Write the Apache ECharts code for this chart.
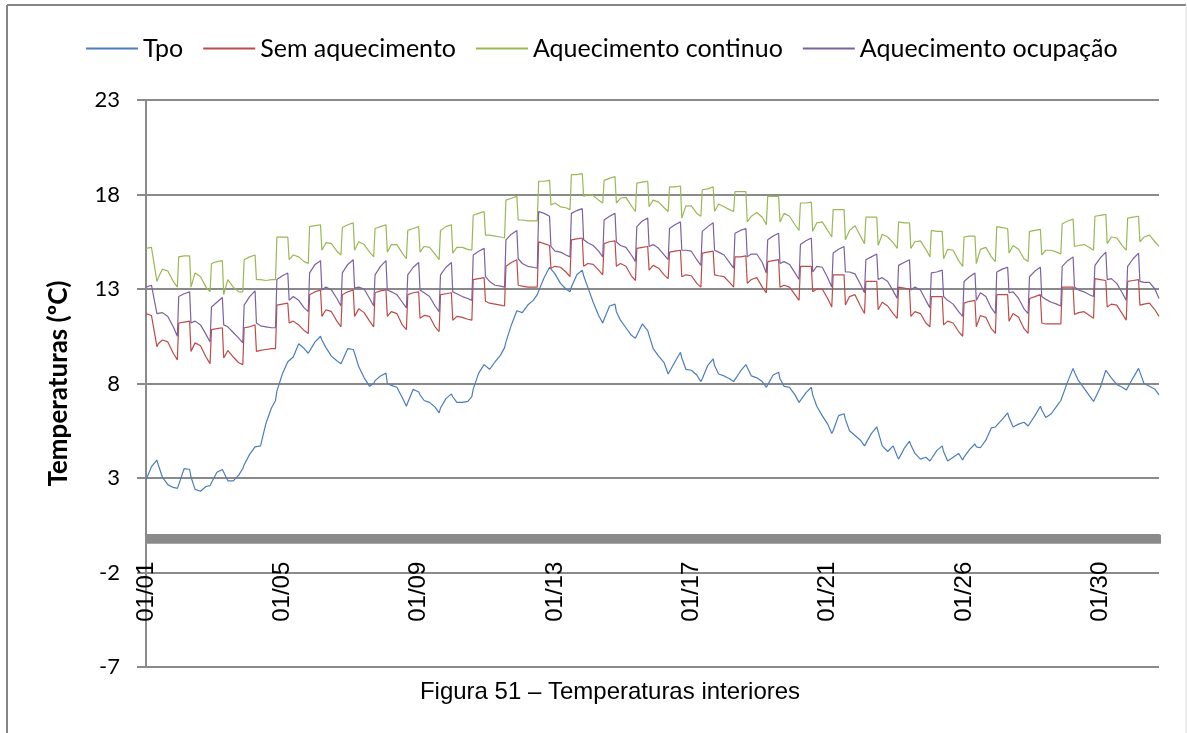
<!DOCTYPE html>
<html>
<head>
    <meta http-equiv="content-type" content="text/html;charset=utf-8" />
    <title>Temperaturas interiores</title>
    <script src="https://cdn.jsdelivr.net/npm/echarts@6/dist/echarts.min.js"></script>
    <style type="text/css">
        * { margin: 0; padding: 0 }
        html, body { background: #fff; }
        #chart { width: 1187px; height: 733px; }
    </style>
</head>
<body>
<div id="chart"></div>

<script>
    // horas de amostragem dentro de cada dia (o grafico original e horario)
    var sampleOffsets = [0, 4, 8, 9, 12, 16, 20, 23];
    var nDays = 31;
    // etiquetas do eixo x, uma a cada 100 horas
    var tickLabels = ['01/01', '01/05', '01/09', '01/13', '01/17', '01/21', '01/26', '01/30'];
    var yTicks = [-7, -2, 3, 8, 13, 18, 23];

    // Tpo
    var tpo = [
        2.9, 3.6, 3.95, 3.7, 3.05, 2.65, 2.5, 2.45,
        2.65, 3.5, 3.45, 3.05, 2.4, 2.3, 2.55, 2.6,
        2.75, 3.3, 3.45, 3.3, 2.85, 2.85, 3.15, 3.5,
        3.7, 4.25, 4.65, 4.65, 4.7, 5.9, 6.7, 7.1,
        7.6, 8.5, 9.15, 9.2, 9.4, 10.1, 9.85, 9.6,
        9.7, 10.2, 10.5, 10.3, 9.9, 9.45, 9.2, 9.05,
        9.2, 9.85, 9.8, 9.6, 8.9, 8.3, 7.85, 8.0,
        8.15, 8.4, 8.55, 8.0, 7.9, 7.8, 7.25, 6.8,
        7.0, 7.7, 7.55, 7.4, 7.1, 7.0, 6.75, 6.45,
        6.7, 7.2, 7.45, 7.3, 7.0, 7.0, 7.05, 7.3,
        7.7, 8.55, 9.0, 8.9, 8.75, 9.15, 9.5, 9.9,
        10.2, 11.1, 11.85, 11.8, 11.75, 12.15, 12.4, 12.7,
        12.9, 13.6, 14.15, 14.1, 13.8, 13.3, 13.0, 12.85,
        13.1, 13.75, 14.0, 13.7, 13.1, 12.3, 11.6, 11.2,
        11.4, 12.1, 12.2, 11.8, 11.35, 10.95, 10.55, 10.4,
        10.55, 11.15, 10.8, 10.55, 9.85, 9.45, 9.1, 8.5,
        8.45, 9.15, 9.65, 9.35, 8.75, 8.7, 8.45, 8.1,
        8.25, 8.95, 9.3, 8.95, 8.5, 8.4, 8.25, 8.1,
        8.1, 8.65, 9.0, 8.85, 8.4, 8.3, 8.1, 7.8,
        7.9, 8.45, 8.6, 8.25, 7.85, 7.8, 7.4, 7.0,
        6.95, 7.5, 7.8, 7.4, 6.8, 6.3, 5.85, 5.35,
        5.5, 6.3, 6.4, 6.1, 5.5, 5.25, 5.0, 4.7,
        4.8, 5.35, 5.7, 5.45, 4.7, 4.4, 4.7, 4.15,
        4.0, 4.55, 4.95, 4.75, 4.3, 4.0, 4.1, 3.9,
        4.0, 4.45, 4.7, 4.4, 3.9, 4.1, 4.3, 3.95,
        4.1, 4.5, 4.8, 4.65, 4.6, 5.0, 5.65, 5.7,
        5.8, 6.1, 6.45, 6.2, 5.7, 5.85, 5.95, 5.75,
        5.8, 6.3, 6.8, 6.6, 6.2, 6.4, 6.8, 7.1,
        7.3, 8.1, 8.8, 8.6, 8.15, 7.75, 7.35, 7.05,
        6.95, 7.8, 8.7, 8.6, 8.3, 7.95, 7.8, 7.65,
        7.7, 8.3, 8.8, 8.6, 8.0, 7.85, 7.7, 7.4
    ];

    // Sem aquecimento
    var semAquecimento = [
        11.7, 11.6, 9.95, 10.1, 10.3, 10.2, 9.6, 9.25,
        11.2, 11.25, 11.3, 9.7, 10.15, 10.0, 9.4, 9.05,
        10.85, 10.9, 10.95, 9.35, 9.75, 9.4, 9.1, 9.0,
        10.95, 11.0, 11.1, 9.7, 9.75, 9.8, 9.85, 9.85,
        12.15, 12.2, 12.25, 11.2, 11.3, 11.1, 10.8, 10.65,
        12.7, 12.85, 12.95, 11.55, 11.9, 11.8, 11.3, 11.0,
        12.7, 12.85, 12.95, 11.55, 11.95, 11.75, 11.3, 11.0,
        12.8, 12.9, 12.95, 11.55, 11.8, 11.7, 11.1, 10.85,
        12.7, 12.8, 12.85, 11.45, 11.6, 11.55, 11.0, 10.75,
        12.7, 12.75, 12.8, 11.35, 11.55, 11.5, 11.4, 11.35,
        13.5, 13.55, 13.6, 12.35, 12.25, 12.2, 12.15, 12.1,
        14.2, 14.4, 14.55, 13.2, 13.15, 13.1, 13.1, 13.1,
        15.5, 15.4, 15.3, 14.1, 14.2, 14.15, 13.9, 13.65,
        15.6, 15.65, 15.7, 14.2, 14.35, 14.3, 14.0, 13.75,
        15.4, 15.5, 15.55, 14.2, 14.35, 14.2, 13.7, 13.45,
        15.15, 15.2, 15.25, 14.0, 14.25, 14.1, 13.75, 13.55,
        14.95, 15.0, 15.05, 13.65, 13.75, 13.7, 13.3, 13.1,
        14.9, 14.95, 15.0, 13.75, 13.7, 13.65, 13.35, 13.1,
        14.7, 14.7, 14.75, 13.3, 13.5, 13.6, 13.1, 12.8,
        14.45, 14.5, 14.55, 13.1, 13.2, 13.1, 12.7, 12.4,
        14.2, 14.2, 14.2, 12.85, 13.0, 13.0, 12.5, 12.05,
        13.75, 13.75, 13.75, 12.15, 12.6, 12.7, 12.1, 11.7,
        13.4, 13.4, 13.4, 11.9, 12.3, 12.1, 11.7, 11.45,
        13.1, 13.05, 13.0, 11.55, 11.8, 11.7, 11.2, 11.0,
        12.6, 12.6, 12.6, 11.1, 11.3, 11.2, 10.75, 10.5,
        12.25, 12.35, 12.4, 11.0, 11.6, 11.5, 10.9, 10.65,
        12.7, 12.7, 12.7, 11.3, 11.7, 11.5, 10.9, 10.65,
        12.5, 12.6, 12.7, 11.2, 11.15, 11.15, 11.15, 11.15,
        13.1, 13.1, 13.1, 11.65, 11.75, 11.8, 11.6, 11.45,
        13.55, 13.5, 13.45, 12.05, 12.2, 12.15, 11.7, 11.35,
        13.4, 13.45, 13.5, 12.15, 12.2, 12.25, 11.9, 11.55
    ];

    // Aquecimento continuo
    var aquecContinuo = [
        15.15, 15.2, 13.4, 13.6, 14.05, 13.95, 13.4, 13.1,
        14.7, 14.75, 14.75, 13.1, 13.85, 13.65, 13.1, 12.85,
        14.35, 14.45, 14.5, 12.7, 13.5, 13.1, 12.85, 12.85,
        14.55, 14.7, 14.8, 13.5, 13.5, 13.45, 13.5, 13.5,
        15.75, 15.75, 15.75, 14.55, 14.8, 14.7, 14.45, 14.35,
        16.3, 16.35, 16.4, 15.05, 15.45, 15.4, 15.0, 14.8,
        16.25, 16.4, 16.5, 15.05, 15.5, 15.35, 14.95, 14.7,
        16.2, 16.3, 16.4, 14.95, 15.35, 15.35, 14.9, 14.6,
        16.1, 16.2, 16.3, 14.95, 15.25, 15.2, 14.85, 14.55,
        16.1, 16.3, 16.4, 14.9, 15.2, 15.2, 15.1, 15.05,
        16.9, 17.0, 17.1, 15.85, 15.85, 15.8, 15.75, 15.7,
        17.7, 17.8, 17.9, 16.65, 16.65, 16.6, 16.6, 16.6,
        18.7, 18.7, 18.75, 17.45, 17.55, 17.35, 17.3, 17.2,
        19.05, 19.05, 19.1, 17.9, 18.0, 17.95, 17.7, 17.55,
        18.75, 18.85, 18.95, 17.55, 17.8, 17.85, 17.4, 17.1,
        18.6, 18.65, 18.7, 17.35, 17.7, 17.6, 17.3, 17.1,
        18.4, 18.4, 18.45, 16.75, 17.4, 17.4, 17.0, 16.85,
        18.25, 18.3, 18.4, 17.1, 17.5, 17.35, 17.2, 17.1,
        18.15, 18.15, 18.15, 16.55, 16.85, 17.05, 16.8, 16.4,
        17.9, 17.9, 17.9, 16.55, 17.0, 16.85, 16.4, 16.1,
        17.55, 17.55, 17.6, 16.05, 16.5, 16.55, 16.1, 15.75,
        17.2, 17.2, 17.2, 15.6, 16.1, 16.35, 15.8, 15.4,
        16.8, 16.8, 16.8, 15.3, 15.9, 15.75, 15.45, 15.15,
        16.55, 16.5, 16.5, 15.15, 15.5, 15.55, 15.1, 14.7,
        16.1, 16.05, 16.05, 14.6, 15.1, 15.05, 14.5, 14.2,
        15.75, 15.8, 15.8, 14.35, 15.1, 15.2, 14.7, 14.45,
        16.3, 16.25, 16.2, 14.9, 15.3, 15.1, 14.6, 14.45,
        16.05, 16.1, 16.15, 14.8, 15.05, 15.05, 14.95, 14.85,
        16.45, 16.6, 16.7, 15.25, 15.3, 15.35, 15.2, 15.05,
        16.85, 16.9, 16.95, 15.4, 15.75, 15.7, 15.3, 15.05,
        16.75, 16.8, 16.85, 15.5, 15.75, 15.85, 15.5, 15.25
    ];

    // Aquecimento ocupação
    var aquecOcupacao = [
        13.1, 13.2, 11.7, 11.75, 11.75, 11.55, 11.0, 10.5,
        12.6, 12.75, 12.85, 11.2, 11.3, 11.1, 10.6, 10.2,
        12.05, 12.3, 12.55, 11.1, 11.0, 10.7, 10.4, 10.15,
        12.15, 12.6, 12.9, 11.2, 11.05, 11.0, 10.95, 10.95,
        13.5, 13.7, 13.85, 12.4, 12.6, 12.4, 12.0, 11.8,
        13.85, 14.3, 14.5, 12.95, 13.1, 12.95, 12.5, 12.1,
        13.85, 14.3, 14.55, 13.05, 13.1, 13.0, 12.5, 12.1,
        13.75, 14.2, 14.5, 12.95, 12.85, 12.7, 12.3, 12.0,
        13.75, 14.15, 14.4, 12.95, 12.8, 12.6, 12.1, 11.8,
        13.75, 14.15, 14.4, 12.85, 12.75, 12.6, 12.5, 12.4,
        14.8, 15.0, 15.15, 13.65, 13.4, 13.2, 13.15, 13.1,
        15.6, 15.9, 16.1, 14.6, 14.35, 14.2, 14.15, 14.1,
        17.1, 17.0, 16.85, 15.25, 15.0, 14.95, 14.8, 14.7,
        17.0, 17.15, 17.25, 15.6, 15.45, 15.3, 15.0, 14.7,
        16.65, 16.85, 17.0, 15.5, 15.3, 15.2, 14.8, 14.45,
        16.3, 16.6, 16.75, 15.25, 15.35, 15.15, 14.8, 14.55,
        16.2, 16.4, 16.55, 15.05, 15.05, 15.0, 14.55, 14.25,
        16.05, 16.3, 16.5, 15.05, 14.95, 14.8, 14.4, 14.1,
        15.95, 16.1, 16.2, 14.7, 14.85, 14.85, 14.4, 13.85,
        15.6, 15.8, 15.95, 14.35, 14.45, 14.3, 13.85, 13.5,
        15.35, 15.55, 15.7, 13.9, 14.2, 14.15, 13.6, 13.1,
        14.9, 15.1, 15.25, 13.9, 13.9, 13.8, 13.25, 12.8,
        14.55, 14.7, 14.85, 13.5, 13.6, 13.4, 12.9, 12.5,
        14.25, 14.4, 14.55, 12.95, 13.1, 12.95, 12.4, 12.0,
        13.85, 13.9, 14.0, 12.6, 12.4, 12.2, 11.8, 11.55,
        13.4, 13.65, 13.85, 12.4, 12.8, 12.6, 12.0, 11.7,
        13.9, 14.05, 14.15, 12.8, 12.85, 12.5, 11.95, 11.7,
        13.65, 13.95, 14.15, 12.6, 12.45, 12.3, 12.2, 12.1,
        14.2, 14.5, 14.7, 13.1, 12.95, 12.85, 12.7, 12.6,
        14.25, 14.65, 14.95, 13.5, 13.55, 13.3, 12.8, 12.4,
        14.2, 14.6, 14.9, 13.4, 13.35, 13.35, 13.0, 12.5
    ];

    var hours = [];
    for (var d = 0; d < nDays; d++) {
        for (var k = 0; k < sampleOffsets.length; k++) {
            hours.push(d * 24 + sampleOffsets[k]);
        }
    }

    function pairs(values) {
        var out = [];
        for (var i = 0; i < values.length; i++) {
            out.push([hours[i], values[i]]);
        }
        return out;
    }

    var gridColor = '#8a8a8a';
    var gridTop = 100, gridBottom = 66, plotHeight = 733 - gridTop - gridBottom;
    // o eixo x cruza o eixo y no zero: desloca-o para cima a partir da base
    var zeroOffset = -plotHeight * (0 - yTicks[0]) / (yTicks[yTicks.length - 1] - yTicks[0]);

    var chart = echarts.init(document.getElementById('chart'));

    var option = {
        animation: false,
        backgroundColor: '#fff',
        legend: {
            left: 81,
            top: 31,
            icon: 'rect',
            itemWidth: 52,
            itemHeight: 2,
            itemGap: 20,
            textStyle: { fontFamily: 'Lato', fontSize: 25, color: '#000' },
            data: ['Tpo', 'Sem aquecimento', 'Aquecimento continuo', 'Aquecimento ocupação']
        },
        grid: { left: 146, right: 28, top: gridTop, bottom: gridBottom, outerBoundsMode: 'none', containLabel: false },
        xAxis: {
            type: 'value',
            position: 'bottom',
            offset: zeroOffset,
            min: 0,
            max: 743,
            interval: 100,
            axisLine: { onZero: false, lineStyle: { color: gridColor, width: 2 } },
            axisTick: { show: true, length: 9, lineStyle: { color: gridColor, width: 3 } },
            minorTick: { show: true, splitNumber: 50, length: 9, lineStyle: { color: gridColor, width: 3 } },
            splitLine: { show: false },
            axisLabel: {
                rotate: 90,
                margin: 27,
                showMaxLabel: false,
                fontFamily: 'Liberation Sans',
                fontSize: 24,
                color: '#000',
                formatter: function (value) {
                    var label = tickLabels[value / 100];
                    return label ? label : '';
                }
            }
        },
        yAxis: {
            type: 'value',
            min: yTicks[0],
            max: yTicks[yTicks.length - 1],
            interval: 5,
            name: 'Temperaturas (ºC)',
            nameLocation: 'middle',
            nameGap: 74,
            nameTextStyle: { fontFamily: 'Lato', fontWeight: 'bold', fontSize: 26, color: '#000' },
            axisLine: { show: true, lineStyle: { color: gridColor, width: 2 } },
            axisTick: { show: true, length: 9, lineStyle: { color: gridColor, width: 2 } },
            splitLine: { show: true, lineStyle: { color: gridColor, width: 2 } },
            axisLabel: { margin: 26, fontFamily: 'Lato', fontSize: 22, color: '#000' }
        },
        series: [
            {
                name: 'Tpo', type: 'line', symbol: 'none', data: pairs(tpo),
                itemStyle: { color: '#4a7ebb' }, lineStyle: { color: '#4a7ebb', width: 1.2 }
            },
            {
                name: 'Sem aquecimento', type: 'line', symbol: 'none', data: pairs(semAquecimento),
                itemStyle: { color: '#be4b48' }, lineStyle: { color: '#be4b48', width: 1.2 }
            },
            {
                name: 'Aquecimento continuo', type: 'line', symbol: 'none', data: pairs(aquecContinuo),
                itemStyle: { color: '#98b954' }, lineStyle: { color: '#98b954', width: 1.2 }
            },
            {
                name: 'Aquecimento ocupação', type: 'line', symbol: 'none', data: pairs(aquecOcupacao),
                itemStyle: { color: '#7d60a0' }, lineStyle: { color: '#7d60a0', width: 1.2 }
            }
        ],
        graphic: [
            { type: 'line', shape: { x1: 7, y1: 5, x2: 1186, y2: 5 }, style: { stroke: '#868686', lineWidth: 2 } },
            { type: 'line', shape: { x1: 7, y1: 5, x2: 7, y2: 733 }, style: { stroke: '#868686', lineWidth: 2 } },
            { type: 'line', shape: { x1: 1186, y1: 5, x2: 1186, y2: 733 }, style: { stroke: '#dedede', lineWidth: 1 } },
            {
                type: 'text', x: 610, y: 692,
                style: {
                    text: 'Figura 51 – Temperaturas interiores', fontFamily: 'Liberation Sans', fontSize: 24,
                    fill: '#000', align: 'center', verticalAlign: 'middle'
                }
            }
        ]
    };

    chart.setOption(option);
</script>
</body>
</html>
